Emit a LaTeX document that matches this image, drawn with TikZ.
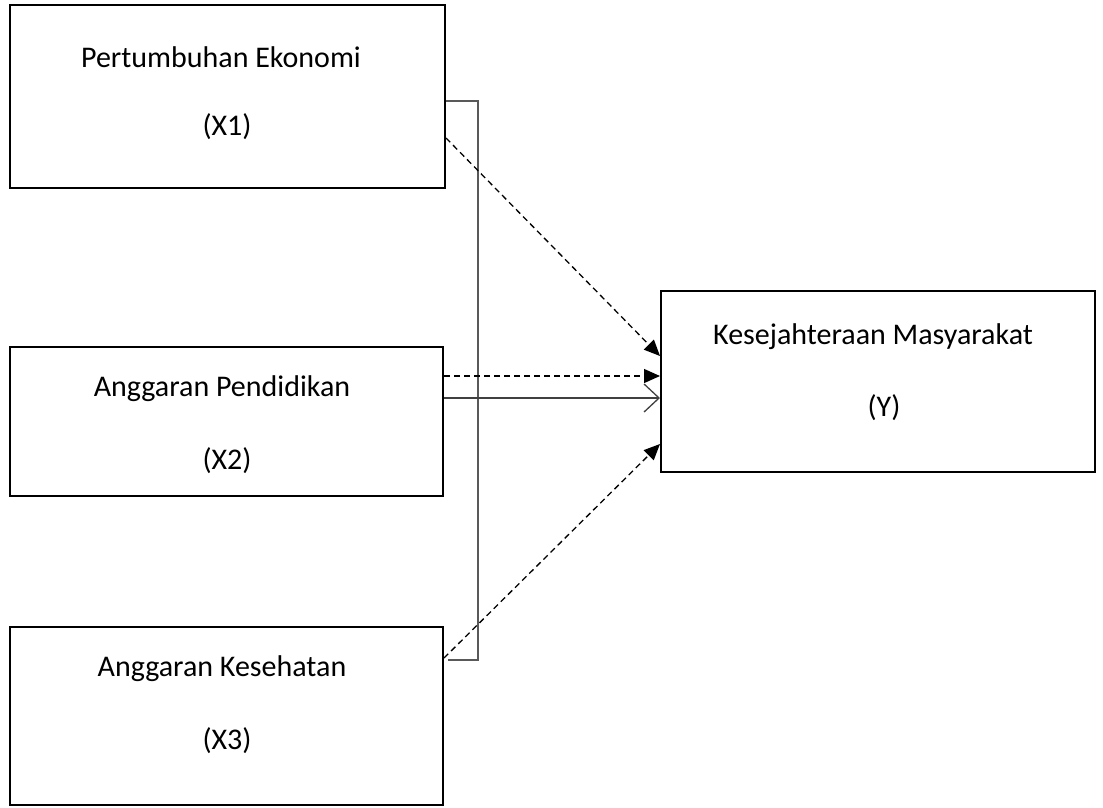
\documentclass[tikz,border=0pt]{standalone}
\usepackage{fontspec}
\setmainfont{Carlito}
\usetikzlibrary{arrows.meta}
\begin{document}
\begin{tikzpicture}[x=1pt,y=-1pt,
  box/.style={draw=black,line width=2pt,inner sep=0pt},
  lbl/.style={font=\fontsize{30}{36}\selectfont,inner sep=0pt,anchor=center},
  dsh/.style={draw=black,line width=1.3pt,dash pattern=on 6pt off 4pt,-{Triangle[length=16pt,width=14pt]}},
  sol/.style={draw=black!75,line width=1.4pt,-{Straight Barb[length=15pt,width=28pt,line width=1.3pt]}},
  brk/.style={draw=black!65,line width=1.4pt}]
\useasboundingbox (0,0) rectangle (1103,807);
% boxes
\node[box,minimum width=435pt,minimum height=183pt] (x1) at (227.5,96) {};
\node[box,minimum width=433pt,minimum height=149pt] (x2) at (226.5,421) {};
\node[box,minimum width=433pt,minimum height=178pt] (x3) at (226.5,716) {};
\node[box,minimum width=434pt,minimum height=181pt] (y) at (878,381.5) {};
% texts
\node[lbl] (t1a) at (221,57) {Pertumbuhan Ekonomi};
\node[lbl] (t1b) at (227,127) {(X1)};
\node[lbl] (t2a) at (222,389) {Anggaran Pendidikan};
\node[lbl] (t2b) at (227,461) {(X2)};
\node[lbl] (t3a) at (222,669) {Anggaran Kesehatan};
\node[lbl] (t3b) at (227,741) {(X3)};
\node[lbl] (tya) at (873,337) {Kesejahteraan Masyarakat};
\node[lbl] (tyb) at (884,408) {(Y)};
% connector points
\coordinate (b1) at (x1.east |- 0,101);
\coordinate (b3) at (448,660);
\coordinate (d1) at (x1.east |- 0,138);
\coordinate (d2) at (x2.east |- 0,376);
\coordinate (s2) at (x2.east |- 0,398);
\coordinate (d3) at (x3.east |- 0,658);
\coordinate (e1) at (y.west |- 0,356);
\coordinate (e2) at (y.west |- 0,376);
\coordinate (f2) at (y.west |- 0,398);
\coordinate (e3) at (y.west |- 0,444);
% bracket
\draw[brk] (b1) -- (478,101) -- (478,660) -- (b3);
% arrows
\draw[dsh] (d1) -- (e1);
\draw[dsh] (d2) -- (e2);
\draw[sol] (s2) -- (f2);
\draw[dsh] (d3) -- (e3);
\end{tikzpicture}
\end{document}
